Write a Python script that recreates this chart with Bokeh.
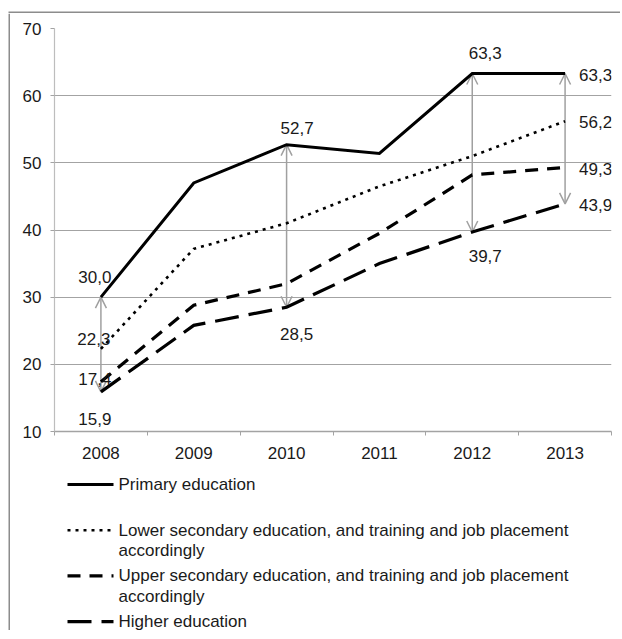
from bokeh.plotting import figure
from bokeh.models import Range1d, FixedTicker, ColumnDataSource, Arrow, OpenHead
from bokeh.layouts import column, row
from bokeh.embed import file_html
from bokeh.resources import INLINE
from bokeh.core.properties import value

# ---------------- data ----------------
years = [2008, 2009, 2010, 2011, 2012, 2013]
primary = [30.0, 47.0, 52.7, 51.4, 63.3, 63.3]
lower_secondary = [22.3, 37.2, 41.0, 46.5, 51.0, 56.2]
upper_secondary = [17.4, 28.8, 32.0, 39.5, 48.2, 49.3]
higher = [15.9, 25.8, 28.5, 35.0, 39.7, 43.9]
y_ticks = [10, 20, 30, 40, 50, 60, 70]
arrow_years = [2008, 2010, 2012, 2013]

legend_primary = ["Primary education"]
legend_lower = ["Lower secondary education, and training and job placement", "accordingly"]
legend_upper = ["Upper secondary education, and training and job placement", "accordingly"]
legend_higher = ["Higher education"]

# ---------------- style ----------------
FONT = "Liberation Sans"
TXT = "#1a1a1a"
GRID = "#a3a3a3"
ARROW = "#a0a0a0"
FRAME = "#8c8c8c"

series = [
    (primary, legend_primary, dict(line_width=3, line_dash="solid")),
    (lower_secondary, legend_lower, dict(line_width=2.6, line_dash="3 5")),
    (upper_secondary, legend_upper, dict(line_width=3.2, line_dash="13 9")),
    (higher, legend_higher, dict(line_width=3.2, line_dash="24 10")),
]


def blank(w, h, x0=0, x1=None):
    f = figure(width=w, height=h, x_range=Range1d(x0, w if x1 is None else x1),
               y_range=Range1d(h, 0),
               min_border=0, x_axis_type=None, y_axis_type=None,
               output_backend="svg", toolbar_location=None)
    f.outline_line_color = None
    f.xgrid.visible = False
    f.ygrid.visible = False
    return f


MAIN_W, MAIN_H, LEG_H = 610, 457, 160
LEFT, RIGHT = 44, 9

p = figure(width=MAIN_W, height=MAIN_H,
           x_range=Range1d(years[0] - 0.5, years[-1] + 0.5),
           y_range=Range1d(y_ticks[0], y_ticks[-1]),
           output_backend="svg", toolbar_location=None,
           min_border_left=LEFT, min_border_right=RIGHT,
           min_border_top=15, min_border_bottom=39)
p.outline_line_color = None
p.xgrid.visible = False
p.ygrid.ticker = FixedTicker(ticks=y_ticks)
p.ygrid.grid_line_color = GRID
p.ygrid.grid_line_width = 1.2

boundaries = [y - 0.5 for y in years] + [years[-1] + 0.5]
xa = p.xaxis[0]
xa.ticker = FixedTicker(ticks=years, minor_ticks=boundaries)
xa.major_tick_out = 0
xa.major_tick_in = 0
xa.minor_tick_out = 4
xa.minor_tick_in = 0
xa.minor_tick_line_color = GRID
xa.axis_line_color = GRID
xa.axis_line_width = 1.5
xa.major_label_text_font = FONT
xa.major_label_text_font_size = "17px"
xa.major_label_text_color = TXT
xa.major_label_standoff = 11

ya = p.yaxis[0]
ya.ticker = FixedTicker(ticks=y_ticks)
ya.major_tick_out = 4
ya.major_tick_in = 0
ya.major_tick_line_color = GRID
ya.minor_tick_line_color = None
ya.axis_line_color = "#bdbdbd"
ya.axis_line_width = 1.2
ya.major_label_text_font = FONT
ya.major_label_text_font_size = "17px"
ya.major_label_text_color = TXT
ya.major_label_standoff = 9

# arrows between primary and higher education
a_src = ColumnDataSource(dict(
    x=arrow_years,
    y0=[primary[years.index(y)] for y in arrow_years],
    y1=[higher[years.index(y)] for y in arrow_years],
))
arr = Arrow(source=a_src, x_start="x", y_start="y0", x_end="x", y_end="y1",
            start=OpenHead(size=11, line_color=ARROW, line_width=1.5),
            end=OpenHead(size=11, line_color=ARROW, line_width=1.5),
            line_color=ARROW, line_width=1.5, level="underlay")
p.add_layout(arr)

for vals, _, st in series:
    p.line(years, vals, line_color="black", line_join="miter", **st)

# data labels
label_spec = [
    (primary, 2008, -6, -20, "center"),
    (lower_secondary, 2008, -7, -10, "center"),
    (upper_secondary, 2008, -6, -3, "center"),
    (higher, 2008, -6, 27, "center"),
    (primary, 2010, 10.5, -17, "center"),
    (higher, 2010, 10, 27, "center"),
    (primary, 2012, 13, -21, "center"),
    (higher, 2012, 13, 24, "center"),
    (primary, 2013, 14, 1, "left"),
    (lower_secondary, 2013, 14, 1, "left"),
    (upper_secondary, 2013, 14, 1, "left"),
    (higher, 2013, 14, 1, "left"),
]
l_src = ColumnDataSource(dict(
    x=[yr for _, yr, _, _, _ in label_spec],
    y=[s[years.index(yr)] for s, yr, _, _, _ in label_spec],
    text=[f"{s[years.index(yr)]:.1f}".replace(".", ",") for s, yr, _, _, _ in label_spec],
    dx=[d for _, _, d, _, _ in label_spec],
    dy=[d for _, _, _, d, _ in label_spec],
    al=[a for _, _, _, _, a in label_spec],
))
p.text(x="x", y="y", text="text", x_offset="dx", y_offset="dy", text_align="al",
       text_baseline="middle", text_font=value(FONT), text_font_size="17px",
       text_color=TXT, source=l_src)

# ---------------- legend (separate panel below) ----------------
# its frame is aligned with the chart frame by the column layout, so the
# x range is expressed in page pixels spanning that frame
leg = blank(MAIN_W, LEG_H, x0=10 + LEFT, x1=10 + MAIN_W - RIGHT)
for i, (_, labels, st) in enumerate(series):
    y0 = 14 + i * 45.7
    leg.line([67, 113], [y0, y0], line_color="black", **st)
    leg.text(x=[118] * len(labels), y=[y0 + j * 20.5 for j in range(len(labels))],
             text=labels, text_baseline="middle", text_align="left",
             text_font=value(FONT), text_font_size="17px", text_color=TXT)

# ---------------- outer frame (top and left edges) ----------------
top_strip = blank(MAIN_W + 10, 13)
top_strip.line([8, MAIN_W + 10], [12, 12], line_color=FRAME, line_width=2)
left_strip = blank(10, MAIN_H + LEG_H)
left_strip.line([9, 9], [0, MAIN_H + LEG_H], line_color=FRAME, line_width=2)

layout = column(top_strip, row(left_strip, column(p, leg)))

open("out.html", "w").write(file_html(layout, INLINE))
